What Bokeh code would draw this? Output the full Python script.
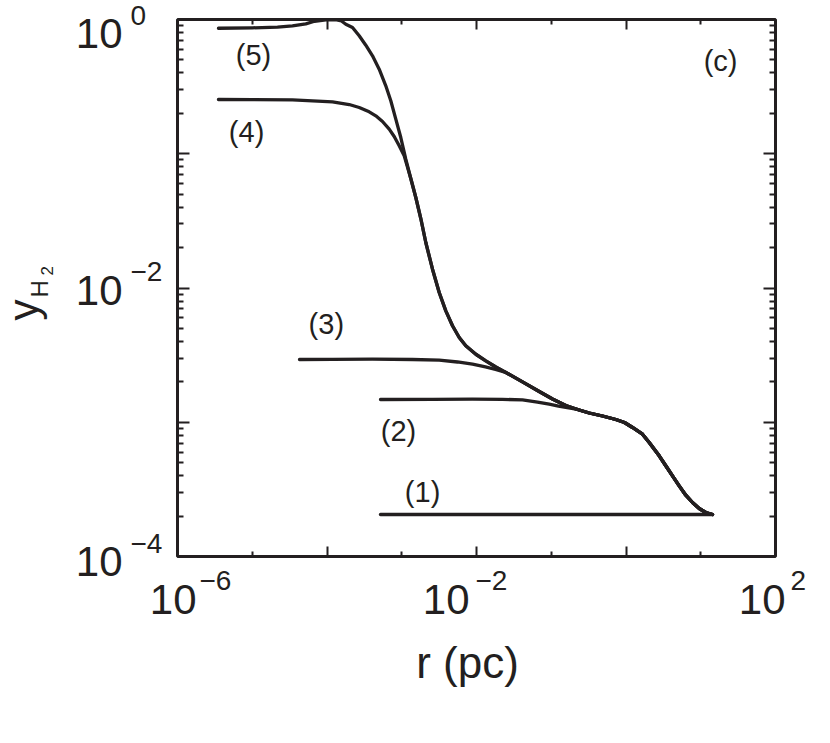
from bokeh.plotting import figure
from bokeh.models import LogAxis, FixedTicker, CustomJSTickFormatter
from bokeh.core.properties import value
from bokeh.embed import file_html
from bokeh.resources import INLINE
import math

INK = "#231f20"
FONT = "Liberation Sans"

# ---------------- data ----------------
# curve (5)
r5 = [3.53e-6, 1.01e-5, 2.177e-5, 3.45e-5, 5.205e-5, 6.80e-5, 9.64e-5, 1.299e-4, 1.563e-4,
      1.784e-4, 2.194e-4, 2.696e-4, 3.305e-4, 4.062e-4, 4.993e-4, 6.116e-4, 7.137e-4,
      8.325e-4, 9.712e-4, 1.1327e-3, 1.321e-3, 1.542e-3, 1.798e-3, 2.098e-3, 2.579e-3,
      3.170e-3, 3.885e-3, 4.775e-3, 5.87e-3, 7.19e-3, 9.79e-3, 1.331e-2, 1.812e-2, 2.466e-2,
      4.124e-2, 6.90e-2, 0.1039, 0.1565, 0.2245, 0.3220, 0.4849, 0.7305, 0.9548, 1.222,
      1.662, 2.044, 2.781, 3.407, 4.189, 5.149, 6.310, 7.756, 9.535, 11.69, 14.36]
y5 = [0.861, 0.867, 0.878, 0.898, 0.929, 0.970, 0.995, 0.9966, 0.975,
      0.9226, 0.8718, 0.7561, 0.6435, 0.5365, 0.4264, 0.3207, 0.2480,
      0.1809, 0.1321, 0.0911, 0.06539, 0.04722, 0.03293, 0.02183, 0.01380,
      9.26e-3, 6.76e-3, 5.23e-3, 4.28e-3, 3.71e-3, 3.21e-3, 2.87e-3, 2.58e-3, 2.35e-3,
      2.00e-3, 1.695e-3, 1.490e-3, 1.333e-3, 1.245e-3, 1.172e-3, 1.113e-3, 1.048e-3, 9.96e-4,
      9.14e-4, 8.15e-4, 7.07e-4, 5.62e-4, 4.74e-4, 3.99e-4, 3.36e-4, 2.86e-4, 2.525e-4,
      2.278e-4, 2.127e-4, 2.055e-4]
# curve (4)
r4 = [3.53e-6, 1.01e-5, 3.45e-5, 1.185e-4, 1.982e-4, 2.696e-4, 3.668e-4, 4.496e-4, 5.527e-4,
      6.795e-4, 7.925e-4, 9.245e-4, 1.0784e-3, 1.321e-3, 1.542e-3, 1.798e-3, 2.098e-3,
      2.579e-3, 3.170e-3, 3.885e-3, 4.775e-3, 5.87e-3, 7.19e-3, 9.79e-3, 1.331e-2, 1.812e-2,
      2.466e-2, 4.124e-2, 6.90e-2, 0.1039, 0.1565, 0.2245, 0.3220, 0.4849, 0.7305, 0.9548,
      1.222, 1.662, 2.044, 2.781, 3.407, 4.189, 5.149, 6.310, 7.756, 9.535, 11.69, 14.36]
y4 = [0.2536, 0.2532, 0.2523, 0.2438, 0.2327, 0.2211, 0.2053, 0.1917, 0.1739,
      0.1524, 0.1344, 0.1146, 0.0966, 0.06539, 0.04722, 0.03293, 0.02183,
      0.01380, 9.26e-3, 6.76e-3, 5.23e-3, 4.28e-3, 3.71e-3, 3.21e-3, 2.87e-3, 2.58e-3,
      2.35e-3, 2.00e-3, 1.695e-3, 1.490e-3, 1.333e-3, 1.245e-3, 1.172e-3, 1.113e-3, 1.048e-3,
      9.96e-4, 9.14e-4, 8.15e-4, 7.07e-4, 5.62e-4, 4.74e-4, 3.99e-4, 3.36e-4, 2.86e-4,
      2.525e-4, 2.278e-4, 2.127e-4, 2.055e-4]
# curve (3)
r3 = [4.286e-5, 1.185e-4, 4.062e-4, 1.392e-3, 3.170e-3, 5.57e-3, 8.84e-3, 1.319e-2, 1.795e-2,
      2.466e-2, 4.124e-2, 6.90e-2, 0.1039, 0.1565, 0.2245, 0.3220, 0.4849, 0.7305, 0.9548,
      1.222, 1.662, 2.044, 2.781, 3.407, 4.189, 5.149, 6.310, 7.756, 9.535, 11.69, 14.36]
y3 = [2.934e-3, 2.944e-3, 2.949e-3, 2.934e-3, 2.899e-3, 2.811e-3, 2.707e-3, 2.588e-3, 2.471e-3,
      2.35e-3, 2.00e-3, 1.695e-3, 1.490e-3, 1.333e-3, 1.245e-3, 1.172e-3, 1.113e-3, 1.048e-3,
      9.96e-4, 9.14e-4, 8.15e-4, 7.07e-4, 5.62e-4, 4.74e-4, 3.99e-4, 3.36e-4, 2.86e-4,
      2.525e-4, 2.278e-4, 2.127e-4, 2.055e-4]
# curve (2)
r2 = [5.196e-4, 2.579e-3, 8.84e-3, 2.227e-2, 4.124e-2, 6.55e-2, 9.39e-2, 0.1250, 0.2245,
      0.3220, 0.4849, 0.7305, 0.9548, 1.222, 1.662, 2.044, 2.781, 3.407, 4.189, 5.149,
      6.310, 7.756, 9.535, 11.69, 14.36]
y2 = [1.477e-3, 1.482e-3, 1.485e-3, 1.480e-3, 1.470e-3, 1.415e-3, 1.363e-3, 1.321e-3, 1.245e-3,
      1.172e-3, 1.113e-3, 1.048e-3, 9.96e-4, 9.14e-4, 8.15e-4, 7.07e-4, 5.62e-4, 4.74e-4,
      3.99e-4, 3.36e-4, 2.86e-4, 2.525e-4, 2.278e-4, 2.127e-4, 2.055e-4]
# curve (1)
r1 = [5.196e-4, 14.36]
y1 = [2.055e-4, 2.055e-4]

curve_names = ["(1)", "(2)", "(3)", "(4)", "(5)"]
curve_label_r = [1.9e-3, 9.06e-4, 9.8e-5, 8.4e-6, 1.04e-5]
curve_label_y = [2.52e-4, 7.07e-4, 4.43e-3, 0.121, 0.454]
panel_tag = "(c)"
panel_tag_r = 18.4
panel_tag_y = 0.403

x_tick_values = [1e-6, 1e-2, 1e2]
x_tick_exps = ["\u22126", "\u22122", "2"]
y_tick_values = [1.0, 1e-2, 1e-4]
y_tick_exps = ["0", "\u22122", "\u22124"]
x_title = "r (pc)"

# ---------------- figure ----------------
p = figure(x_axis_type="log", y_axis_type="log", x_range=(1e-6, 1e2), y_range=(1e-4, 1.0),
           frame_width=598, frame_height=537,
           min_border_left=177, min_border_right=37, min_border_top=19, min_border_bottom=164,
           output_backend="svg", toolbar_location=None,
           background_fill_color="white", border_fill_color="white")
p.outline_line_color = INK
p.outline_line_width = 3
p.xgrid.visible = False
p.ygrid.visible = False

p.add_layout(LogAxis(), "above")
p.add_layout(LogAxis(), "right")

x_major = [1e-4, 1e-2, 1.0]
x_minor = [1e-5, 1e-3, 1e-1, 1e1]
y_major = [1e-3, 1e-2, 1e-1]
y_minor = [k * 10.0 ** e for e in range(-4, 0) for k in range(2, 10)]


def style_axis(ax, ticker, major_len, minor_len):
    ax.ticker = ticker
    ax.formatter = CustomJSTickFormatter(code="return ''")
    ax.axis_line_color = None
    ax.major_tick_in = major_len
    ax.major_tick_out = 0
    ax.minor_tick_in = minor_len
    ax.minor_tick_out = 0
    ax.major_tick_line_color = INK
    ax.minor_tick_line_color = INK
    ax.major_tick_line_width = 2
    ax.minor_tick_line_width = 2
    ax.major_label_text_color = None
    ax.major_label_text_font_size = "0px"
    ax.major_label_standoff = 0
    ax.axis_label = None


for ax in p.xaxis:
    style_axis(ax, FixedTicker(ticks=x_major, minor_ticks=x_minor), 10, 5)
for ax in p.yaxis:
    style_axis(ax, FixedTicker(ticks=y_major, minor_ticks=y_minor), 12, 6)

# ---------------- curves ----------------
for rr, yy in [(r1, y1), (r2, y2), (r3, y3), (r4, y4), (r5, y5)]:
    p.line(rr, yy, line_color=INK, line_width=3.3, line_join="round", line_cap="round")

BASE_FIX = 0.38  # renderer's baseline correction, in em


def txt(x, y, s, size, align="left", dx=0.0, dy=0.0, angle=0.0, level="overlay"):
    fix = BASE_FIX * size
    if angle == 0.0:
        dy -= fix
    else:
        dx -= fix
    p.text(x=[x], y=[y], text=[s], text_font=value(FONT), text_font_size=value(f"{size}px"),
           text_color=INK, text_align=align, text_baseline="alphabetic",
           x_offset=dx, y_offset=dy, angle=angle, level=level)


for name, rx, ry in zip(curve_names, curve_label_r, curve_label_y):
    txt(rx, ry, name, 29, align="center", level="glyph")
txt(panel_tag_r, panel_tag_y, panel_tag, 29, align="center", level="glyph")

# x tick labels ("10" plus raised exponent)
x_shift = [(19, 22), (-7, -1), (10, 15)]
for v, e, (d10, de) in zip(x_tick_values, x_tick_exps, x_shift):
    txt(v, 1e-4, "10", 42, align="right", dx=d10, dy=59)
    txt(v, 1e-4, e, 28, align="left", dx=de, dy=35)

# y tick labels
y_shift = [(30, 7), (18, -6), (21, -2)]
for v, e, (b10, be) in zip(y_tick_values, y_tick_exps, y_shift):
    txt(1e-6, v, "10", 42, align="right", dx=-55, dy=b10)
    txt(1e-6, v, e, 28, align="left", dx=-47, dy=be)

# axis titles
txt(1e-2, 1e-4, x_title, 44, align="center", dx=-9, dy=123)
txt(1e-6, 1e-4, "y", 42, dx=-138, dy=-236, angle=math.pi / 2)
txt(1e-6, 1e-4, "H", 24, dx=-129, dy=-259, angle=math.pi / 2)
txt(1e-6, 1e-4, "2", 17, dx=-124, dy=-281, angle=math.pi / 2)

open("out.html", "w").write(file_html(p, INLINE))
